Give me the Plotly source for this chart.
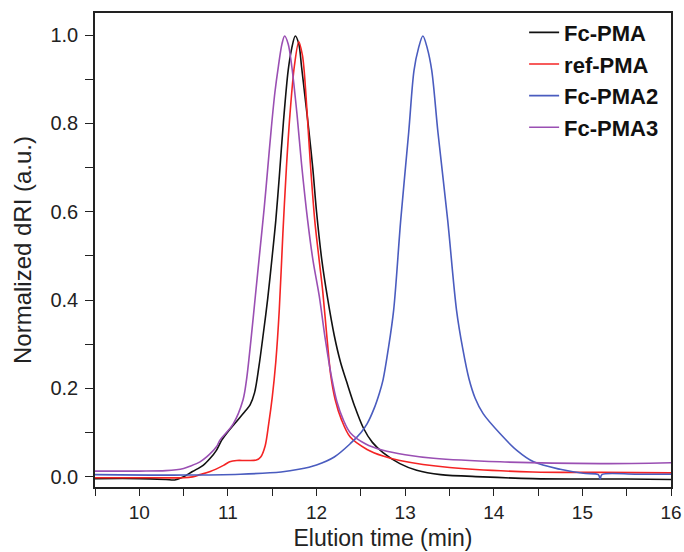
import plotly.graph_objects as go

# Fc-PMA (black)
fc_x = [9.5, 10.0, 10.3, 10.4, 10.5, 10.6, 10.72, 10.8, 10.87, 10.93, 11.0, 11.1, 11.2, 11.25,
        11.3, 11.35, 11.4, 11.45, 11.5, 11.54, 11.58, 11.625, 11.68, 11.72, 11.76, 11.8, 11.83,
        11.87, 11.91, 11.957, 12.0, 12.06, 12.12, 12.2, 12.27, 12.34, 12.43, 12.53, 12.63, 12.75,
        12.94, 13.13, 13.4, 13.88, 14.44, 15.0, 15.5, 16.0]
fc_y = [-0.004, -0.004, -0.006, -0.007, 0.0, 0.012, 0.026, 0.042, 0.06, 0.083, 0.102, 0.126, 0.15,
        0.163, 0.19, 0.25, 0.325, 0.405, 0.5, 0.58, 0.68, 0.8, 0.92, 0.97, 0.998, 0.98, 0.93,
        0.86, 0.79, 0.7, 0.6, 0.49, 0.41, 0.32, 0.26, 0.215, 0.16, 0.11, 0.078, 0.055,
        0.03, 0.015, 0.005, 0.0, -0.004, -0.005, -0.005, -0.006]

# ref-PMA (red)
ref_x = [9.5, 10.0, 10.5, 10.6, 10.685, 10.8, 10.95, 11.02, 11.1, 11.2, 11.32, 11.37, 11.42, 11.46,
         11.5, 11.54, 11.58, 11.62, 11.66, 11.7, 11.75, 11.8, 11.84, 11.86, 11.895, 11.93, 11.98,
         12.03, 12.07, 12.12, 12.16, 12.21, 12.28, 12.38, 12.57, 12.75, 12.94, 13.5, 14.44, 15.2,
         16.0]
ref_y = [-0.002, -0.002, -0.002, 0.0, 0.005, 0.012, 0.026, 0.034, 0.037, 0.037, 0.038, 0.045, 0.07,
         0.12, 0.18, 0.26, 0.38, 0.55, 0.7, 0.82, 0.93, 0.985, 0.955, 0.92, 0.82, 0.71, 0.58,
         0.49, 0.42, 0.31, 0.23, 0.175, 0.13, 0.09, 0.062, 0.047, 0.037, 0.021, 0.011, 0.01,
         0.009]

# Fc-PMA2 (blue)
fc2_x = [9.5, 10.5, 11.14, 11.6, 11.8, 12.0, 12.2, 12.38, 12.5, 12.57, 12.65, 12.71, 12.75, 12.81,
         12.87, 12.95, 13.04, 13.1, 13.15, 13.2, 13.25, 13.3, 13.37, 13.48, 13.58, 13.65, 13.72,
         13.79, 13.88, 14.07, 14.26, 14.45, 14.75, 15.01, 15.18, 15.2, 15.22, 15.6, 16.0]
fc2_y = [0.005, 0.004, 0.006, 0.011, 0.017, 0.027, 0.045, 0.075, 0.1, 0.12, 0.155, 0.19, 0.219,
         0.29, 0.377, 0.581, 0.78, 0.92, 0.97, 0.998, 0.97, 0.92, 0.78, 0.581, 0.377, 0.29, 0.222,
         0.178, 0.143, 0.098, 0.06, 0.034, 0.017, 0.008, 0.005, -0.005, 0.005, 0.006, 0.006]

# Fc-PMA3 (purple)
fc3_x = [9.5, 10.0, 10.3, 10.5, 10.57, 10.685, 10.76, 10.87, 10.91, 11.06, 11.17, 11.21, 11.26,
         11.31, 11.36, 11.41, 11.45, 11.49, 11.53, 11.57, 11.61, 11.64, 11.68, 11.72, 11.78, 11.83,
         11.9, 11.96, 12.03, 12.1, 12.17, 12.23, 12.3, 12.38, 12.55, 12.75, 13.0, 13.32, 14.07,
         15.2, 16.0]
fc3_y = [0.013, 0.013, 0.014, 0.019, 0.024, 0.034, 0.045, 0.068, 0.083, 0.12, 0.174, 0.22, 0.31,
         0.41, 0.51, 0.61, 0.7, 0.79, 0.87, 0.93, 0.98, 0.998, 0.98, 0.93, 0.82, 0.71,
         0.58, 0.49, 0.41, 0.31, 0.225, 0.17, 0.13, 0.1, 0.075, 0.06, 0.05, 0.042, 0.034,
         0.03, 0.032]

names = ["Fc-PMA", "ref-PMA", "Fc-PMA2", "Fc-PMA3"]
colors = ["#111111", "#f42424", "#4a5cbf", "#9a4fb3"]
xs = [fc_x, ref_x, fc2_x, fc3_x]
ys = [fc_y, ref_y, fc2_y, fc3_y]

fig = go.Figure()
for n, c, x, y in zip(names, colors, xs, ys):
    fig.add_trace(go.Scatter(x=x, y=y, mode="lines", name=n,
                             line=dict(color=c, width=1.6, shape="spline", smoothing=0.9)))

axis_common = dict(showline=True, linecolor="#222222", linewidth=1.5, mirror=True,
                   ticks="outside", tickwidth=1.2, tickcolor="#222222",
                   showgrid=False, zeroline=False, automargin=False)

fig.update_layout(
    width=684, height=552,
    margin=dict(l=95, r=13, t=13, b=65),
    paper_bgcolor="white", plot_bgcolor="white",
    font=dict(family="Liberation Sans, Arial", color="#222222"),
    xaxis=dict(range=[9.5, 16], dtick=1, tick0=10, ticklen=7, ticklabelstandoff=0,
               tickfont=dict(family="Liberation Sans, Arial", size=19, color="#222222"),
               minor=dict(dtick=0.5, ticks="outside", ticklen=7, tickcolor="#222222"),
               title=dict(text="Elution time (min)", font=dict(size=23), standoff=8),
               **axis_common),
    yaxis=dict(range=[-0.023, 1.05], dtick=0.2, tick0=0, tickformat=".1f", ticklen=8,
               ticklabelstandoff=3,
               tickfont=dict(family="Liberation Sans, Arial", size=20, color="#222222"),
               minor=dict(dtick=0.1, ticks="outside", ticklen=8, tickcolor="#222222"),
               title=dict(text="Normalized dRI (a.u.)", font=dict(size=24), standoff=12),
               **axis_common),
    legend=dict(x=0.745, y=1.003, xanchor="left", yanchor="top",
                bgcolor="rgba(0,0,0,0)", borderwidth=0, traceorder="normal",
                font=dict(family="Liberation Sans, Arial", size=22, color="#111111",
                          weight="bold")),
    showlegend=True,
)

fig.write_html("out.html")
